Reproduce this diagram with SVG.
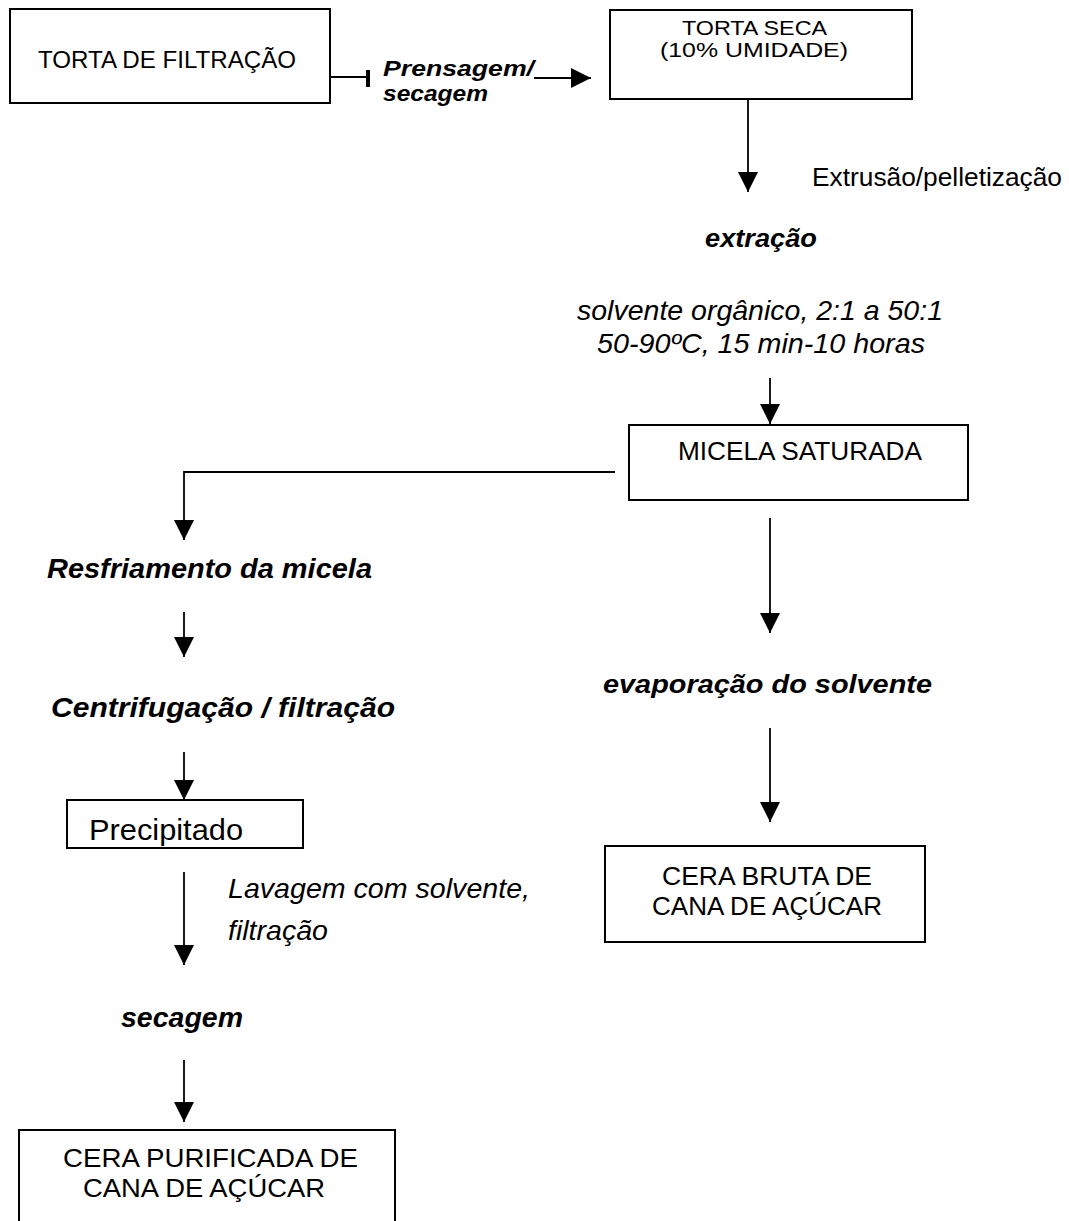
<svg xmlns="http://www.w3.org/2000/svg" width="1069" height="1221" viewBox="0 0 1069 1221">
<defs>
<style>
.box{fill:#fff;stroke:#000;stroke-width:2}
.ln{fill:none;stroke:#000;stroke-width:1.8}
.t{font-family:"Liberation Sans",Arial,sans-serif;fill:#000}
.bi{font-weight:bold;font-style:italic}
.it{font-style:italic}
</style>
<marker id="ah" markerUnits="userSpaceOnUse" markerWidth="20" markerHeight="20" refX="20" refY="10" orient="auto" viewBox="0 0 20 20">
<path d="M0,0 L20,10 L0,20 z" fill="#000"/>
</marker>
</defs>
<rect width="1069" height="1221" fill="#fff"/>

<g id="connectors">
<line class="ln" x1="330" y1="77" x2="367" y2="77"/>
<rect x="366" y="70" width="4" height="17" fill="#000"/>
<line class="ln" x1="534" y1="78" x2="591" y2="78" marker-end="url(#ah)"/>
<line class="ln" x1="748" y1="99" x2="748" y2="192" marker-end="url(#ah)"/>
<line class="ln" x1="770" y1="378" x2="770" y2="424" marker-end="url(#ah)"/>
<polyline class="ln" points="615,472 184,472 184,540" marker-end="url(#ah)"/>
<line class="ln" x1="184" y1="612" x2="184" y2="657" marker-end="url(#ah)"/>
<line class="ln" x1="184" y1="752" x2="184" y2="800" marker-end="url(#ah)"/>
<line class="ln" x1="184" y1="872" x2="184" y2="965" marker-end="url(#ah)"/>
<line class="ln" x1="184" y1="1060" x2="184" y2="1122" marker-end="url(#ah)"/>
<line class="ln" x1="770" y1="518" x2="770" y2="633" marker-end="url(#ah)"/>
<line class="ln" x1="770" y1="728" x2="770" y2="822" marker-end="url(#ah)"/>
</g>

<g id="torta-filtracao">
<rect class="box" x="10" y="9" width="320" height="94"/>
<text class="t" x="38" y="68" font-size="23" textLength="258" lengthAdjust="spacingAndGlyphs">TORTA DE FILTRAÇÃO</text>
</g>

<g id="label-prensagem">
<text class="t bi" x="383" y="76" font-size="22" textLength="151" lengthAdjust="spacingAndGlyphs">Prensagem/</text>
<text class="t bi" x="383" y="101" font-size="22" textLength="105" lengthAdjust="spacingAndGlyphs">secagem</text>
</g>

<g id="torta-seca">
<rect class="box" x="610" y="10" width="302" height="89"/>
<text class="t" x="682" y="35" font-size="20" textLength="145" lengthAdjust="spacingAndGlyphs">TORTA SECA</text>
<text class="t" x="660" y="57" font-size="20" textLength="188" lengthAdjust="spacingAndGlyphs">(10% UMIDADE)</text>
</g>

<g id="label-extrusao">
<text class="t" x="812" y="186" font-size="25" textLength="250" lengthAdjust="spacingAndGlyphs">Extrusão/pelletização</text>
</g>

<g id="extracao">
<text class="t bi" x="705" y="247" font-size="26" textLength="112" lengthAdjust="spacingAndGlyphs">extração</text>
</g>

<g id="label-solvente">
<text class="t it" x="577" y="320" font-size="28" textLength="366" lengthAdjust="spacingAndGlyphs">solvente orgânico, 2:1 a 50:1</text>
<text class="t it" x="597" y="353" font-size="28" textLength="328" lengthAdjust="spacingAndGlyphs">50-90ºC, 15 min-10 horas</text>
</g>

<g id="micela-saturada">
<rect class="box" x="629" y="425" width="339" height="75"/>
<text class="t" x="678" y="460" font-size="25" textLength="244" lengthAdjust="spacingAndGlyphs">MICELA SATURADA</text>
</g>

<g id="resfriamento">
<text class="t bi" x="47" y="578" font-size="28" textLength="325" lengthAdjust="spacingAndGlyphs">Resfriamento da micela</text>
</g>

<g id="centrifugacao">
<text class="t bi" x="51" y="717" font-size="28" textLength="344" lengthAdjust="spacingAndGlyphs">Centrifugação / filtração</text>
</g>

<g id="precipitado">
<rect class="box" x="67" y="800" width="236" height="48"/>
<text class="t" x="89" y="840" font-size="30" textLength="154" lengthAdjust="spacingAndGlyphs">Precipitado</text>
</g>

<g id="label-lavagem">
<text class="t it" x="228" y="898" font-size="28" textLength="302" lengthAdjust="spacingAndGlyphs">Lavagem com solvente,</text>
<text class="t it" x="228" y="940" font-size="28" textLength="100" lengthAdjust="spacingAndGlyphs">filtração</text>
</g>

<g id="secagem">
<text class="t bi" x="121" y="1027" font-size="28" textLength="122" lengthAdjust="spacingAndGlyphs">secagem</text>
</g>

<g id="cera-purificada">
<rect class="box" x="19" y="1130" width="376" height="110"/>
<text class="t" x="63" y="1167" font-size="26" textLength="295" lengthAdjust="spacingAndGlyphs">CERA PURIFICADA DE</text>
<text class="t" x="83" y="1197" font-size="26" textLength="242" lengthAdjust="spacingAndGlyphs">CANA DE AÇÚCAR</text>
</g>

<g id="evaporacao">
<text class="t bi" x="603" y="693" font-size="26" textLength="329" lengthAdjust="spacingAndGlyphs">evaporação do solvente</text>
</g>

<g id="cera-bruta">
<rect class="box" x="605" y="846" width="320" height="96"/>
<text class="t" x="662" y="885" font-size="25" textLength="210" lengthAdjust="spacingAndGlyphs">CERA BRUTA DE</text>
<text class="t" x="652" y="915" font-size="25" textLength="230" lengthAdjust="spacingAndGlyphs">CANA DE AÇÚCAR</text>
</g>
</svg>
